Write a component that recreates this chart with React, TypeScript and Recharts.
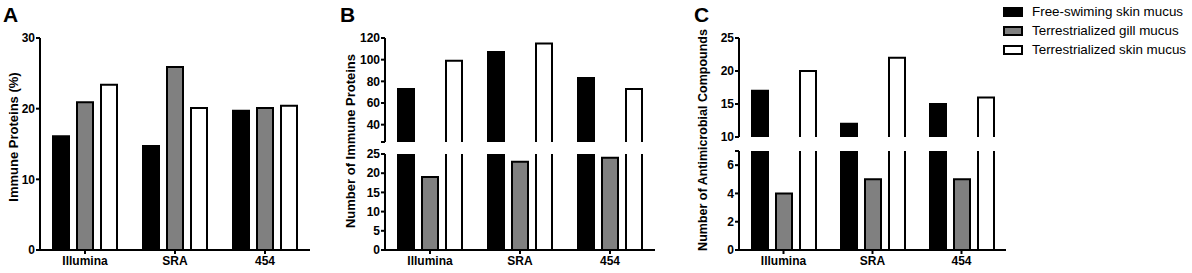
import React from "react";
import { Bar, BarChart, XAxis, YAxis } from "recharts";

const categories = ["Illumina", "SRA", "454"];

// A: immune proteins (%)
const freeSkinPct = [16.1, 14.7, 19.7];
const gillPct = [20.9, 25.9, 20.1];
const terrSkinPct = [23.4, 20.1, 20.4];

// B: number of immune proteins
const freeSkinCount = [73, 107, 83];
const gillCount = [19, 23, 24];
const terrSkinCount = [99, 115, 73];

// C: number of antimicrobial compounds
const freeSkinAmp = [17, 12, 15];
const gillAmp = [4, 5, 5];
const terrSkinAmp = [20, 22, 16];

const seriesNames = [
  "Free-swiming skin mucus",
  "Terrestrialized gill mucus",
  "Terrestrialized skin mucus",
];

const FONT = '"Liberation Sans", Arial, Helvetica, sans-serif';
const COLORS = ["#000000", "#808080", "#ffffff"];

const toRows = (a: number[], b: number[], c: number[]) =>
  categories.map((name, i) => ({ name, free: a[i], gill: b[i], terr: c[i] }));

const rowsA = toRows(freeSkinPct, gillPct, terrSkinPct);
const rowsB = toRows(freeSkinCount, gillCount, terrSkinCount);
const rowsC = toRows(freeSkinAmp, gillAmp, terrSkinAmp);

const tickStyle = { fill: "#000", fontSize: 12, fontWeight: 700, fontFamily: FONT };
const lineStyle = { stroke: "#000", strokeWidth: 2 };

// bar with no bottom edge, for the upper half of a broken axis
function OpenBottomBar(props: any) {
  const { x, y, width, height, fill } = props;
  if (!height || height <= 0) return null;
  return (
    <g>
      <rect x={x} y={y} width={width} height={height} fill={fill} stroke="none" />
      <path
        d={`M${x},${y + height} L${x},${y} L${x + width},${y} L${x + width},${y + height}`}
        fill="none"
        stroke="#000"
        strokeWidth={2}
      />
    </g>
  );
}

function bars(open: boolean) {
  return ["free", "gill", "terr"].map((key, i) => (
    <Bar
      key={key}
      dataKey={key}
      fill={COLORS[i]}
      stroke="#000"
      strokeWidth={2}
      isAnimationActive={false}
      shape={open ? (p: any) => <OpenBottomBar {...p} /> : undefined}
    />
  ));
}

function Panel({
  data,
  width,
  height,
  margin,
  domain,
  ticks,
  hideX,
  open,
  blankTick,
  yWidth,
}: {
  data: any[];
  width: number;
  height: number;
  margin: { top: number; right: number; bottom: number; left: number };
  domain: [number, number];
  ticks: number[];
  hideX?: boolean;
  open?: boolean;
  blankTick?: number;
  yWidth: number;
}) {
  return (
    <BarChart width={width} height={height} data={data} margin={margin} barSize={16} barGap={8}>
      <XAxis
        dataKey="name"
        hide={hideX}
        height={23}
        tick={tickStyle}
        tickSize={4}
        tickMargin={2}
        axisLine={lineStyle}
        tickLine={lineStyle}
        interval={0}
      />
      <YAxis
        width={yWidth}
        domain={domain}
        ticks={ticks}
        allowDataOverflow
        tick={tickStyle}
        tickSize={4}
        tickMargin={1}
        axisLine={lineStyle}
        tickLine={lineStyle}
        interval={0}
        tickFormatter={(v: number) => (v === blankTick ? "" : String(v))}
      />
      {bars(!!open)}
    </BarChart>
  );
}

const abs = (left: number, top: number): React.CSSProperties => ({
  position: "absolute",
  left,
  top,
});

function Letter({ text, left }: { text: string; left: number }) {
  return (
    <div style={{ ...abs(left, 4), fontSize: 21, fontWeight: 700, lineHeight: 1 }}>{text}</div>
  );
}

function AxisTitle({ text, cx, cy, size = 13 }: { text: string; cx: number; cy: number; size?: number }) {
  return (
    <div
      style={{
        ...abs(cx, cy),
        transform: "translate(-50%, -50%) rotate(-90deg)",
        whiteSpace: "nowrap",
        fontSize: size,
        fontWeight: 700,
        lineHeight: 1,
      }}
    >
      {text}
    </div>
  );
}

export default function App() {
  return (
    <div
      style={{
        position: "absolute",
        left: 0,
        top: 0,
        width: 1192,
        height: 273,
        background: "#fff",
        fontFamily: FONT,
        color: "#000",
        overflow: "hidden",
      }}
    >
      {/* A */}
      <div style={abs(0, 0)}>
        <Panel
          data={rowsA}
          width={320}
          height={273}
          margin={{ top: 38, right: 10, bottom: 0, left: 0 }}
          domain={[0, 30]}
          ticks={[0, 10, 20, 30]}
          yWidth={40}
        />
      </div>

      {/* B, broken axis */}
      <div style={abs(335, 0)}>
        <Panel
          data={rowsB}
          width={330}
          height={150}
          margin={{ top: 38, right: 10, bottom: 8, left: 0 }}
          domain={[24, 120]}
          ticks={[24, 40, 60, 80, 100, 120]}
          blankTick={24}
          hideX
          open
          yWidth={50}
        />
      </div>
      <div style={abs(335, 142)}>
        <Panel
          data={rowsB}
          width={330}
          height={131}
          margin={{ top: 12, right: 10, bottom: 0, left: 0 }}
          domain={[0, 25]}
          ticks={[0, 5, 10, 15, 20, 25]}
          yWidth={50}
        />
      </div>

      {/* C, broken axis */}
      <div style={abs(689, 0)}>
        <Panel
          data={rowsC}
          width={330}
          height={145}
          margin={{ top: 38, right: 13, bottom: 8, left: 0 }}
          domain={[10, 25]}
          ticks={[10, 15, 20, 25]}
          hideX
          open
          yWidth={50}
        />
      </div>
      <div style={abs(689, 139)}>
        <Panel
          data={rowsC}
          width={330}
          height={134}
          margin={{ top: 12, right: 13, bottom: 0, left: 0 }}
          domain={[0, 7]}
          ticks={[0, 2, 4, 6, 7]}
          blankTick={7}
          yWidth={50}
        />
      </div>

      <Letter text="A" left={3} />
      <Letter text="B" left={340} />
      <Letter text="C" left={694} />

      <AxisTitle text="Immune Proteins (%)" cx={13} cy={137} />
      <AxisTitle text="Number of Immune Proteins" cx={350} cy={141} />
      <AxisTitle text="Number of Antimicrobial Compounds" cx={703} cy={140} size={12.5} />

      {/* legend */}
      {seriesNames.map((name, i) => (
        <div
          key={name}
          style={{ ...abs(1003, 4 + i * 19), display: "flex", alignItems: "center", height: 15 }}
        >
          <div
            style={{
              width: 16,
              height: 6,
              background: COLORS[i],
              border: "2px solid #000",
            }}
          />
          <div style={{ marginLeft: 9, fontSize: 13.4, lineHeight: 1, whiteSpace: "nowrap" }}>
            {name}
          </div>
        </div>
      ))}
    </div>
  );
}
